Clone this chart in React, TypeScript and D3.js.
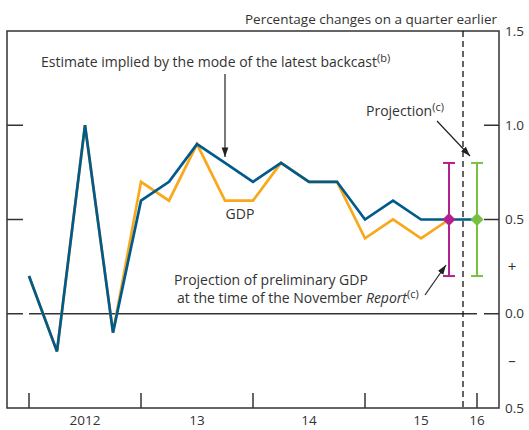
import React from 'react'
import * as d3 from 'd3'

// quarterly growth, 2012 Q1 onwards (index = quarter)
const gdp = [0.2, -0.2, 1.0, -0.1, 0.7, 0.6, 0.9, 0.6, 0.6, 0.8, 0.7, 0.7, 0.4, 0.5, 0.4, 0.5]
const backcast = [0.2, -0.2, 1.0, -0.1, 0.6, 0.7, 0.9, 0.8, 0.7, 0.8, 0.7, 0.7, 0.5, 0.6, 0.5, 0.5, 0.5]
const yearTicks = [0, 4, 8, 12, 16]
const yearLabels = [
  {q: 2, label: '2012'},
  {q: 6, label: '13'},
  {q: 10, label: '14'},
  {q: 14, label: '15'},
  {q: 16, label: '16'},
]
const yTicks = [1.5, 1.0, 0.5, 0.0, -0.5]
const yTickLabels = ['1.5', '1.0', '0.5', '0.0', '0.5']
// projections: {quarter, central, low, high}
const prelimProjection = {q: 15, mid: 0.5, lo: 0.2, hi: 0.8}
const projection = {q: 16, mid: 0.5, lo: 0.2, hi: 0.8}
const cutoffQ = 15.5

const W = 529
const H = 430
const left = 7, right = 499, top = 31, bottom = 408
const font = '"Open Sans", sans-serif'
const textCol = '#333'
const blue = '#005a8c'
const orange = '#f9a81b'
const magenta = '#b3218f'
const green = '#78c042'
const axisFs = 13.5
const noteFs = 14

export default function App() {
  const x = d3.scaleLinear().domain([0, 16]).range([29, 477])
  const y = d3.scaleLinear().domain([-0.5, 1.5]).range([bottom, top])
  const line = d3.line<number>().x((d, i) => x(i)).y(d => y(d))

  const errBar = (p: typeof projection, col: string) => {
    const cx = x(p.q), cy = y(p.mid), s = 6.5
    return (
      <g>
        <line x1={cx} x2={cx} y1={y(p.hi)} y2={y(p.lo)} stroke={col} strokeWidth={2} />
        <line x1={cx - 6} x2={cx + 6} y1={y(p.hi)} y2={y(p.hi)} stroke={col} strokeWidth={2} />
        <line x1={cx - 6} x2={cx + 6} y1={y(p.lo)} y2={y(p.lo)} stroke={col} strokeWidth={2} />
        <path d={`M${cx},${cy - s}L${cx + s},${cy}L${cx},${cy + s}L${cx - s},${cy}Z`} fill={col} />
      </g>
    )
  }

  return (
    <svg width={W} height={H} style={{position: 'absolute', left: 0, top: 0}} fontFamily={font}>
      <defs>
        <marker id="ah" viewBox="0 0 10 10" refX="10" refY="5" markerWidth="8" markerHeight="8" orient="auto">
          <path d="M0,1.5L10,5L0,8.5Z" fill="#222" />
        </marker>
      </defs>
      <rect x={0} y={0} width={W} height={H} fill="#fff" />

      {/* frame */}
      <rect x={left} y={top} width={right - left} height={bottom - top} fill="none" stroke={textCol} strokeWidth={1.5} />

      {/* y ticks */}
      {yTicks.filter(v => v < 1.5 && v > -0.5).map(v => (
        <g key={v}>
          <line x1={left} x2={left + 16} y1={y(v)} y2={y(v)} stroke={textCol} strokeWidth={1.5} />
          <line x1={right - 15} x2={right} y1={y(v)} y2={y(v)} stroke={textCol} strokeWidth={1.5} />
        </g>
      ))}
      {yTicks.map((v, i) => (
        <text key={i} x={505} y={y(v)} dy="0.35em" fontSize={axisFs} fill={textCol}>{yTickLabels[i]}</text>
      ))}
      <text x={512} y={y(0.25)} dy="0.35em" textAnchor="middle" fontSize={15} fill={textCol}>+</text>
      <text x={512} y={y(-0.25)} dy="0.35em" textAnchor="middle" fontSize={15} fill={textCol}>–</text>

      {/* zero line */}
      <line x1={x(0)} x2={x(16)} y1={y(0)} y2={y(0)} stroke={textCol} strokeWidth={1.5} />

      {/* x ticks */}
      {yearTicks.map(q => (
        <line key={q} x1={x(q)} x2={x(q)} y1={bottom} y2={bottom - 15} stroke={textCol} strokeWidth={1.5} />
      ))}
      {yearLabels.map(d => (
        <text key={d.label} x={x(d.q)} y={425} textAnchor="middle" fontSize={axisFs} fill={textCol}>{d.label}</text>
      ))}

      {/* cutoff */}
      <line x1={x(cutoffQ)} x2={x(cutoffQ)} y1={top} y2={bottom} stroke="#111" strokeWidth={1.3} strokeDasharray="6,4" />

      {/* series */}
      <path d={line(gdp) || ''} fill="none" stroke={orange} strokeWidth={2.7} strokeLinejoin="miter" />
      <path d={line(backcast) || ''} fill="none" stroke={blue} strokeWidth={2.7} strokeLinejoin="miter" />

      {errBar(prelimProjection, magenta)}
      {errBar(projection, green)}

      {/* titles and annotations */}
      <text x={497} y={24} textAnchor="end" fontSize={axisFs} fill={textCol}>Percentage changes on a quarter earlier</text>

      <text x={41} y={67} fontSize={noteFs} fill={textCol}>
        Estimate implied by the mode of the latest backcast<tspan fontSize={11} dy={-5}>(b)</tspan>
      </text>
      <line x1={225} x2={225} y1={74} y2={157} stroke="#222" strokeWidth={1.2} markerEnd="url(#ah)" />

      <text x={240} y={219} textAnchor="middle" fontSize={noteFs} fill={textCol}>GDP</text>

      <text x={366} y={116} fontSize={noteFs} fill={textCol}>
        Projection<tspan fontSize={11} dy={-5}>(c)</tspan>
      </text>
      <line x1={437} x2={470} y1={121} y2={156} stroke="#222" strokeWidth={1.2} markerEnd="url(#ah)" />

      <text x={174} y={285} fontSize={noteFs} fill={textCol}>Projection of preliminary GDP</text>
      <text x={177} y={303} fontSize={noteFs} fill={textCol}>
        at the time of the November <tspan fontStyle="italic">Report</tspan><tspan fontSize={11} dy={-5}>(c)</tspan>
      </text>
      <line x1={425} x2={446} y1={295} y2={265} stroke="#222" strokeWidth={1.2} markerEnd="url(#ah)" />
    </svg>
  )
}
